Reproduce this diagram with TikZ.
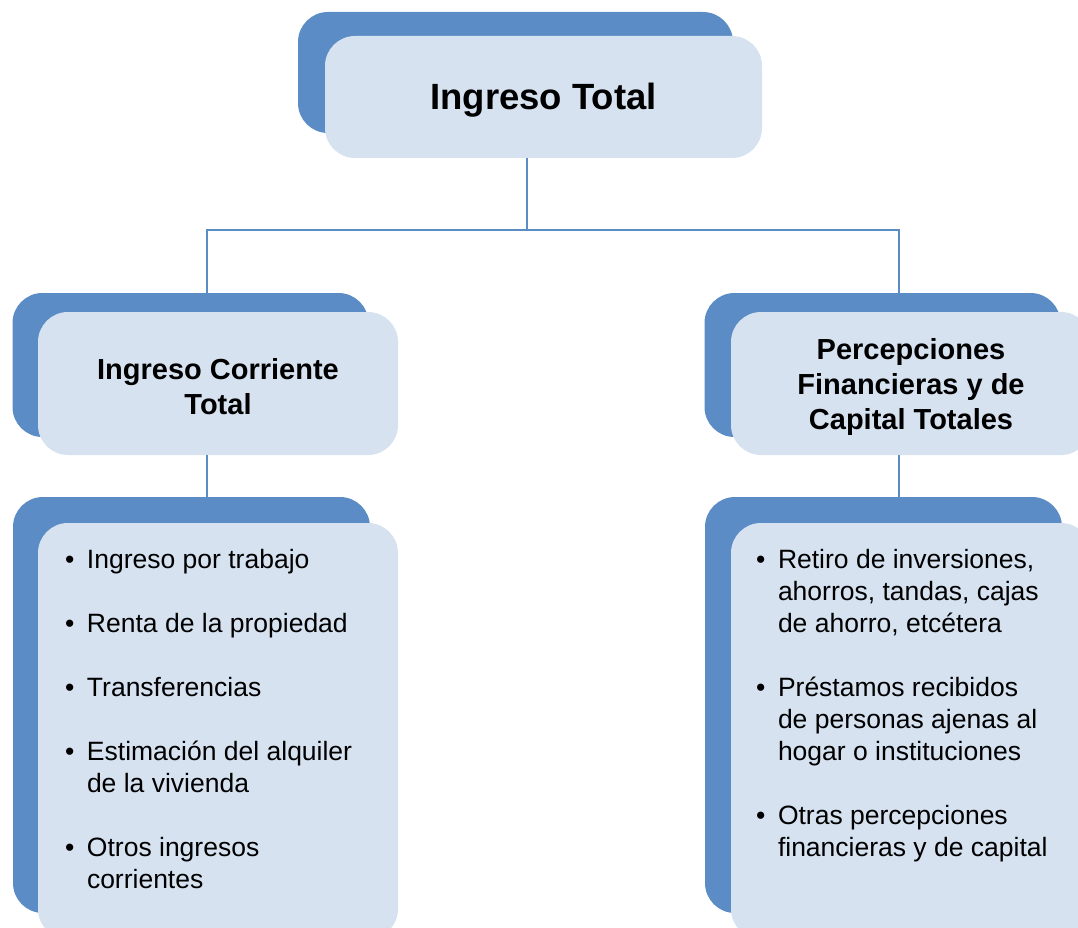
\documentclass[tikz,border=0pt]{standalone}
\usepackage{fontspec}
\setmainfont{Liberation Sans}
\usetikzlibrary{positioning}
\definecolor{cardback}{HTML}{5B8CC5}
\definecolor{cardfront}{HTML}{D6E2F0}
\newcommand{\litem}{\makebox[22pt][l]{\textbullet}}
\newcommand{\lcont}{\hspace*{22pt}}
\begin{document}
\begin{tikzpicture}[x=1pt,y=-1pt,
    back/.style={fill=cardback,rounded corners=30pt,inner sep=0pt,
        minimum width=356pt},
    front/.style={fill=cardfront,rounded corners=30pt,inner sep=0pt,
        minimum width=360pt},
    heading/.style={inner sep=0pt,align=center,
        font=\fontsize{29}{35}\selectfont\bfseries},
    list/.style={anchor=north west,inner sep=0pt,align=left,
        font=\fontsize{26.5}{32}\selectfont},
    link/.style={draw=cardback,line width=2pt}]
    \useasboundingbox (0,0) rectangle (1078,928);
    \clip (0,0) rectangle (1078,928);

    % top card
    \node[back,minimum width=435pt,minimum height=121pt] (totalback) at (515.5,72.5) {};
    \node[front,minimum width=437pt,minimum height=122pt] (total) at (543.5,97) {};
    \node[heading,font=\fontsize{36.5}{44}\selectfont\bfseries] (totaltitle)
        at ([yshift=-3pt]total.center) {Ingreso Total};

    % second level
    \node[back,minimum height=144pt] (lcback) at (190.5,365) {};
    \node[front,minimum height=143pt] (lcfront) at (218,383.5) {};
    \node[heading] (lctitle) at ([yshift=-3pt]lcfront.center) {Ingreso Corriente\\Total};
    \node[back,minimum height=144pt] (rcback) at (882.5,365) {};
    \node[front,minimum height=143pt] (rcfront) at (911,383.5) {};
    \node[heading] (rctitle) at ([yshift=-3pt]rcfront.center)
        {Percepciones\\Financieras y de\\Capital Totales};

    % lists
    \node[back,minimum width=357pt,minimum height=416pt] (lsback) at (191.5,705) {};
    \node[front,minimum height=416pt] (lsfront) at (218,731) {};
    \node[back,minimum width=357pt,minimum height=416pt] (rsback) at (883.5,705) {};
    \node[front,minimum height=416pt] (rsfront) at (911,731) {};

    \node[list,below right=26pt and 27pt of lsfront.north west] (lslist) {%
        \litem Ingreso por trabajo\\[32pt]
        \litem Renta de la propiedad\\[32pt]
        \litem Transferencias\\[32pt]
        \litem Estimación del alquiler\\
        \lcont de la vivienda\\[32pt]
        \litem Otros ingresos\\
        \lcont corrientes};
    \node[list,below right=26pt and 25pt of rsfront.north west] (rslist) {%
        \litem Retiro de inversiones,\\
        \lcont ahorros, tandas, cajas\\
        \lcont de ahorro, etcétera\\[32pt]
        \litem Préstamos recibidos\\
        \lcont de personas ajenas al\\
        \lcont hogar o instituciones\\[32pt]
        \litem Otras percepciones\\
        \lcont financieras y de capital};

    % connectors
    \coordinate (bus) at (527,230);
    \draw[link] (total.south -| bus) -- (bus);
    \draw[link] (bus) -| ([xshift=16.5pt]lcback.north);
    \draw[link] (bus) -| ([xshift=16.5pt]rcback.north);
    \draw[link] ([xshift=-11pt]lcfront.south) -- ([xshift=-11pt]lcfront.south |- lsback.north);
    \draw[link] ([xshift=-12pt]rcfront.south) -- ([xshift=-12pt]rcfront.south |- rsback.north);
\end{tikzpicture}
\end{document}
